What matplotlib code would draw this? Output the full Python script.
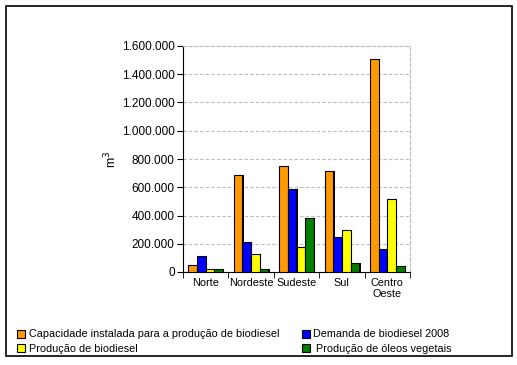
import matplotlib
matplotlib.use("Agg")
import matplotlib.pyplot as plt
from matplotlib.patches import Patch, Rectangle
from matplotlib.ticker import FuncFormatter, MultipleLocator, FixedLocator
import numpy as np

plt.rcParams['font.family'] = ['Liberation Sans', 'DejaVu Sans']

categories = ["Norte", "Nordeste", "Sudeste", "Sul", "Centro\nOeste"]
series_names = ["Capacidade instalada para a produção de biodiesel",
                "Demanda de biodiesel 2008",
                "Produção de biodiesel",
                " Produção de óleos vegetais"]
capacidade = [50000, 690000, 750000, 715000, 1510000]
demanda = [110000, 210000, 590000, 250000, 160000]
producao_bio = [20000, 130000, 180000, 300000, 515000]
producao_oleos = [20000, 20000, 380000, 65000, 45000]
colors = ["#FF9900", "#0000FF", "#FFFF00", "#008000"]

fig = plt.figure(figsize=(5.17, 3.65), dpi=100)
fig.patches.append(Rectangle((6/517, 1-356/365), 506/517, 350/365, transform=fig.transFigure,
                             fill=False, edgecolor='black', linewidth=1.2))

ax = fig.add_axes([183/517, 1-272/365, 227/517, 226/365])
x = np.arange(len(categories))
w = 0.19
data = [capacidade, demanda, producao_bio, producao_oleos]
for i, (vals, c) in enumerate(zip(data, colors)):
    pos = x + (i - 1.5) * w
    # 3D-ish dark side
    ax.bar(pos + 0.03, vals, width=w, bottom=0, color='black', zorder=2 + i * 2)
    ax.bar(pos, vals, width=w, color=c, edgecolor='black', linewidth=0.8, zorder=3 + i * 2)

ax.set_xlim(-0.5, len(categories) - 0.5)
ax.set_ylim(0, 1600000)
ax.yaxis.set_major_locator(MultipleLocator(200000))
ax.yaxis.set_major_formatter(FuncFormatter(lambda v, p: f"{int(v):,}".replace(",", ".")))
ax.set_xticks(x)
ax.set_xticklabels(categories)
ax.tick_params(axis='x', which='major', length=0, pad=4)
ax.xaxis.set_minor_locator(FixedLocator(np.arange(-0.5, len(categories), 1.0)))
ax.tick_params(axis='x', which='minor', length=4, color='black')
ax.tick_params(axis='y', length=4, color='black', pad=2)
for lab in ax.get_xticklabels():
    lab.set_fontsize(7.8)
for lab in ax.get_yticklabels():
    lab.set_fontsize(8.5)
ax.grid(axis='y', linestyle=(0, (3, 2)), color='#BBBBBB', linewidth=0.8, zorder=0)
ax.set_axisbelow(True)
for s in ['top', 'right']:
    ax.spines[s].set_linestyle((0, (3, 2)))
    ax.spines[s].set_color('#BBBBBB')
ax.spines['left'].set_color('black')
ax.spines['bottom'].set_color('black')
ax.set_ylabel("m$^3$", fontsize=9, labelpad=2)

handles = [Patch(facecolor=c, edgecolor='black', linewidth=0.8) for c in colors]
order = [0, 2, 1, 3]
fig.legend([handles[i] for i in order], [series_names[i] for i in order],
           loc='upper left', bbox_to_anchor=(13/517, 1-325/365), ncol=2, frameon=False,
           fontsize=7.8, handlelength=0.75, handleheight=0.75, handletextpad=0.3,
           columnspacing=2.1, labelspacing=0.45, borderaxespad=0)

fig.savefig("out.png", dpi=100)
